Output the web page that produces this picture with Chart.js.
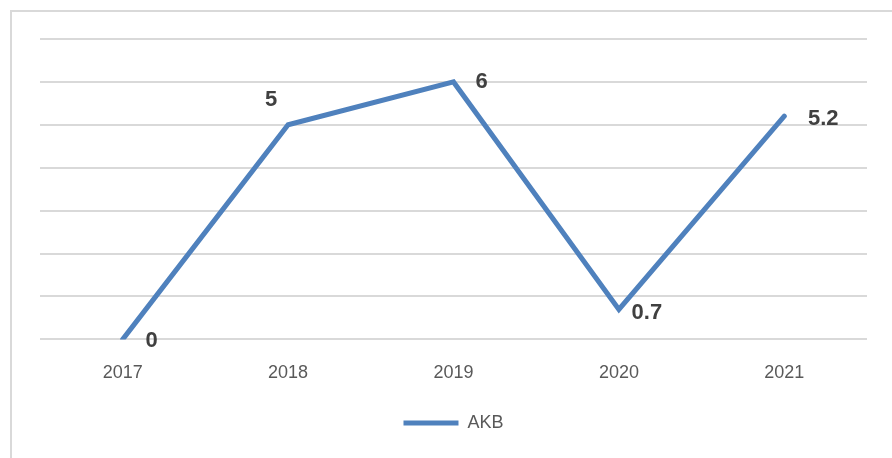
<!DOCTYPE html>
<html>
<head>
<meta charset="utf-8">
<script src="https://cdn.jsdelivr.net/npm/chart.js@4.4.1/dist/chart.umd.min.js"></script>
<style>
  html, body { margin: 0; padding: 0; background: #fff; }
  #wrap { position: relative; width: 892px; height: 458px; }
</style>
</head>
<body>
<div id="wrap"><canvas id="chartAkb" width="892" height="458"></canvas></div>
<script>
const years = ['2017', '2018', '2019', '2020', '2021'];
const akbValues = [0, 5, 6, 0.7, 5.2];
const seriesName = 'AKB';

// frame around the chart, like the office export
const framePlugin = {
    id: 'frame',
    beforeDraw(chart) {
        const c = chart.ctx;
        c.save();
        c.fillStyle = '#fff';
        c.fillRect(0, 0, chart.width, chart.height);
        c.strokeStyle = '#d9d9d9';
        c.lineWidth = 2;
        c.strokeRect(11, 11, chart.width, chart.height);
        c.restore();
    }
};

// value labels next to each point
const labelPlugin = {
    id: 'valueLabels',
    afterDatasetsDraw(chart) {
        const c = chart.ctx;
        const meta = chart.getDatasetMeta(0);
        const offs = [[29, 2], [-17, -25], [28, 0], [28, 4], [39, 3]];
        c.save();
        c.font = 'bold 22px "Liberation Sans", Arial, sans-serif';
        c.fillStyle = '#404040';
        c.textAlign = 'center';
        c.textBaseline = 'middle';
        meta.data.forEach((pt, i) => {
            const o = offs[i] || [20, 0];
            c.fillText(String(akbValues[i]), pt.x + o[0], pt.y + o[1]);
        });
        c.restore();
    }
};

const ctx = document.getElementById('chartAkb').getContext('2d');
new Chart(ctx, {
    type: 'line',
    data: {
        labels: years,
        datasets: [{
            label: seriesName,
            data: akbValues,
            borderColor: '#4f81bd',
            backgroundColor: '#4f81bd',
            borderWidth: 5,
            borderCapStyle: 'round',
            borderJoinStyle: 'miter',
            pointRadius: 0,
            tension: 0
        }]
    },
    options: {
        responsive: false,
        animation: false,
        layout: { padding: { left: 40, right: 25, top: 39, bottom: 16 } },
        scales: {
            x: {
                offset: true,
                grid: { display: false },
                border: { display: false },
                ticks: {
                    color: '#595959',
                    font: { family: '"Liberation Sans", Arial, sans-serif', size: 18 },
                    padding: 15
                }
            },
            y: {
                min: 0,
                max: 7,
                ticks: { display: false, stepSize: 1 },
                border: { display: false },
                grid: { color: '#d9d9d9', lineWidth: 2, drawTicks: false }
            }
        },
        plugins: {
            legend: {
                position: 'bottom',
                labels: {
                    usePointStyle: true,
                    pointStyle: 'line',
                    pointStyleWidth: 55,
                    color: '#595959',
                    font: { family: '"Liberation Sans", Arial, sans-serif', size: 18 },
                    padding: 15
                }
            },
            tooltip: { enabled: false }
        }
    },
    plugins: [framePlugin, labelPlugin]
});
</script>
</body>
</html>
